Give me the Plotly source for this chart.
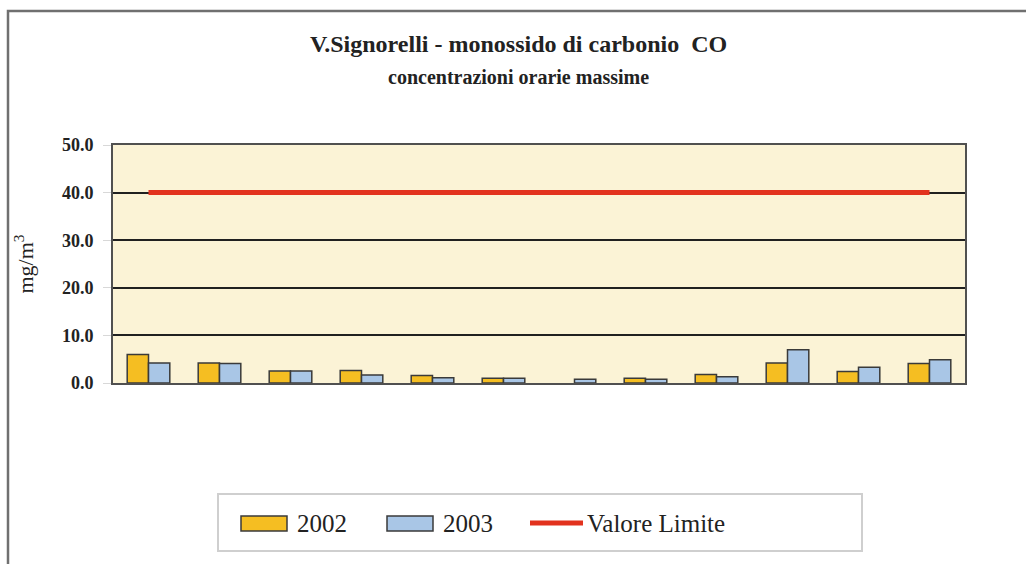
import plotly.graph_objects as go

# Monthly maximum hourly CO concentrations (mg/m3), V.Signorelli station
months = ["Gen", "Feb", "Mar", "Apr", "Mag", "Giu", "Lug", "Ago", "Set", "Ott", "Nov", "Dic"]
co_2002 = [6.0, 4.2, 2.5, 2.6, 1.6, 1.0, None, 1.0, 1.8, 4.2, 2.4, 4.1]
co_2003 = [4.2, 4.1, 2.5, 1.7, 1.1, 1.0, 0.8, 0.8, 1.3, 7.0, 3.3, 4.9]
valore_limite = [40.0] * len(months)
y_ticks = [0, 10, 20, 30, 40, 50]

SERIF = "Liberation Serif, Times New Roman, serif"
C2002 = "#F5BE22"
C2003 = "#A9C6E6"
CLIM = "#E2321E"
TXT = "#222222"

fig = go.Figure()
fig.add_trace(go.Bar(x=months, y=co_2002, name="2002", showlegend=False,
                     marker=dict(color=C2002, line=dict(color="#3a3a3a", width=1.5))))
fig.add_trace(go.Bar(x=months, y=co_2003, name="2003", showlegend=False,
                     marker=dict(color=C2003, line=dict(color="#3a3a3a", width=1.5))))
fig.add_trace(go.Scatter(x=months, y=valore_limite, name="Valore Limite", mode="lines",
                         showlegend=False, line=dict(color=CLIM, width=5)))

# plot area in pixels: x 113..965, y 145..383
L, R, T, B = 113, 965, 145, 383
W, H = R - L, B - T


def px(x):
    return (x - L) / W


def py(y):
    return (B - y) / H


shapes = [
    # outer frame
    dict(type="rect", xref="paper", yref="paper", x0=px(8), x1=px(1040), y0=py(11), y1=py(580),
         line=dict(color="#707070", width=2.5), fillcolor="rgba(0,0,0,0)", layer="below"),
    # legend box
    dict(type="rect", xref="paper", yref="paper", x0=px(218), x1=px(862), y0=py(494), y1=py(551),
         line=dict(color="#cfcfcf", width=2), fillcolor="rgba(0,0,0,0)"),
    # legend swatches
    dict(type="rect", xref="paper", yref="paper", x0=px(241), x1=px(287), y0=py(516), y1=py(531),
         line=dict(color="#3a3a3a", width=1.5), fillcolor=C2002),
    dict(type="rect", xref="paper", yref="paper", x0=px(387), x1=px(433), y0=py(516), y1=py(531),
         line=dict(color="#3a3a3a", width=1.5), fillcolor=C2003),
    dict(type="line", xref="paper", yref="paper", x0=px(530), x1=px(583), y0=py(523), y1=py(523),
         line=dict(color=CLIM, width=5)),
]


def note(text, x, y, size, xanchor="center"):
    return dict(text=text, xref="paper", yref="paper", x=px(x), y=py(y),
                xanchor=xanchor, yanchor="middle", showarrow=False,
                font=dict(family=SERIF, size=size, color=TXT))


annotations = [
    note("<b>V.Signorelli - monossido di carbonio  CO</b>", 518, 44, 24),
    note("<b>concentrazioni orarie massime</b>", 518, 77, 20),
    note("2002", 295, 523, 25, "left"),
    note("2003", 441, 523, 25, "left"),
    note("Valore Limite", 585, 523, 25, "left"),
]

fig.update_layout(
    width=1026, height=564,
    margin=dict(l=L, r=1026 - R, t=T, b=564 - B, pad=0),
    paper_bgcolor="white",
    plot_bgcolor="#FBF3D6",
    barmode="group",
    bargap=0.4,
    bargroupgap=0.0,
    showlegend=False,
    shapes=shapes,
    annotations=annotations,
    xaxis=dict(showticklabels=False, showgrid=False, zeroline=False, ticks="",
               showline=True, mirror=True, linecolor="#505050", linewidth=2),
    yaxis=dict(range=[0, 50], tickvals=y_ticks, tickformat=".1f",
               tickfont=dict(family=SERIF, size=18, color=TXT, weight="bold"),
               showgrid=True, gridcolor="#202020", gridwidth=1.5, zeroline=False,
               ticks="outside", ticklen=8, tickcolor="#d8d8d8", ticklabelstandoff=6,
               showline=True, mirror=True, linecolor="#505050", linewidth=2,
               title=dict(text="mg/m<sup>3</sup>", font=dict(family=SERIF, size=22, color=TXT),
                          standoff=22)),
)

fig.write_html("out.html")
